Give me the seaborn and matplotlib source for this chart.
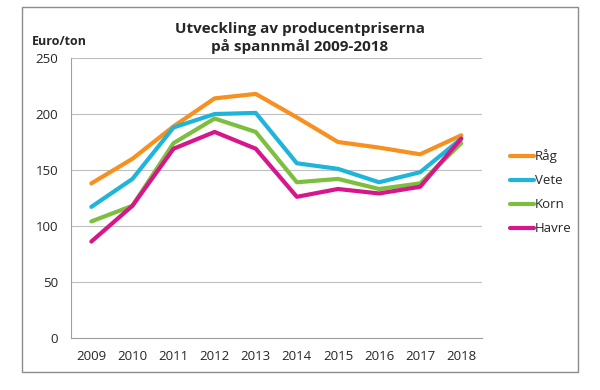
import pandas as pd
import numpy as np
import matplotlib.pyplot as plt
import seaborn as sns
from matplotlib.patches import Rectangle

years = ["2009", "2010", "2011", "2012", "2013", "2014", "2015", "2016", "2017", "2018"]
rag = [138, 160, 189, 214, 218, 197, 175, 170, 164, 181]
vete = [117, 142, 188, 200, 201, 156, 151, 139, 148, 178]
korn = [104, 118, 174, 196, 184, 139, 142, 133, 138, 174]
havre = [86, 118, 169, 184, 169, 126, 133, 129, 135, 178]
series = ["Råg", "Vete", "Korn", "Havre"]
colors = ["#F7901E", "#1FB4DA", "#7CBF3F", "#D8168C"]

df = pd.DataFrame({"År": years, "Råg": rag, "Vete": vete, "Korn": korn, "Havre": havre})
long = df.melt(id_vars="År", var_name="Sort", value_name="Pris")
long["x"] = long["År"].map({y: i for i, y in enumerate(years)})

sns.set_style("white")
plt.rcParams["font.family"] = ["Open Sans", "DejaVu Sans"]

fig = plt.figure(figsize=(6, 3.9), dpi=100)
ax = fig.add_axes([0.118, 0.134, 0.685, 0.717])

sns.lineplot(data=long, x="x", y="Pris", hue="Sort", hue_order=series,
             palette=colors, linewidth=3, ax=ax)

ax.set_xlim(-0.5, len(years) - 0.5)
ax.set_ylim(0, 250)
ax.set_yticks(range(0, 251, 50))
ax.set_xticks(np.arange(len(years)))
ax.set_xticklabels(years)
ax.set_xticks(np.arange(-0.5, len(years), 1), minor=True)
ax.tick_params(axis="x", which="major", length=0, pad=9, labelsize=9.5)
ax.tick_params(axis="x", which="minor", length=5, color="#A0A0A0", width=0.8)
ax.tick_params(axis="y", length=5, color="#A0A0A0", width=0.8, pad=4, labelsize=9.5)
ax.grid(axis="y", color="#BEBEBE", linewidth=0.8)
ax.set_axisbelow(True)
for s in ["top", "right"]:
    ax.spines[s].set_visible(False)
for s in ["left", "bottom"]:
    ax.spines[s].set_color("#A0A0A0")
    ax.spines[s].set_linewidth(0.8)
ax.set_xlabel("")
ax.set_ylabel("")

fig.text(0.5, 0.903, "Utveckling av producentpriserna\npå spannmål 2009-2018",
         ha="center", va="center", fontsize=11, fontweight="bold", linespacing=1.2)
fig.text(0.053, 0.893, "Euro/ton", ha="left", va="center", fontsize=9, fontweight="bold")

ax.legend(loc="center left", bbox_to_anchor=(1.04, 0.52), frameon=False,
          fontsize=9.5, handlelength=1.8, handletextpad=0.05, labelspacing=0.83)

fig.patches.append(Rectangle((0.036, 0.045), 0.928, 0.936, transform=fig.transFigure,
                             fill=False, edgecolor="#8C8C8C", linewidth=1))

fig.savefig("out.png", dpi=100)
